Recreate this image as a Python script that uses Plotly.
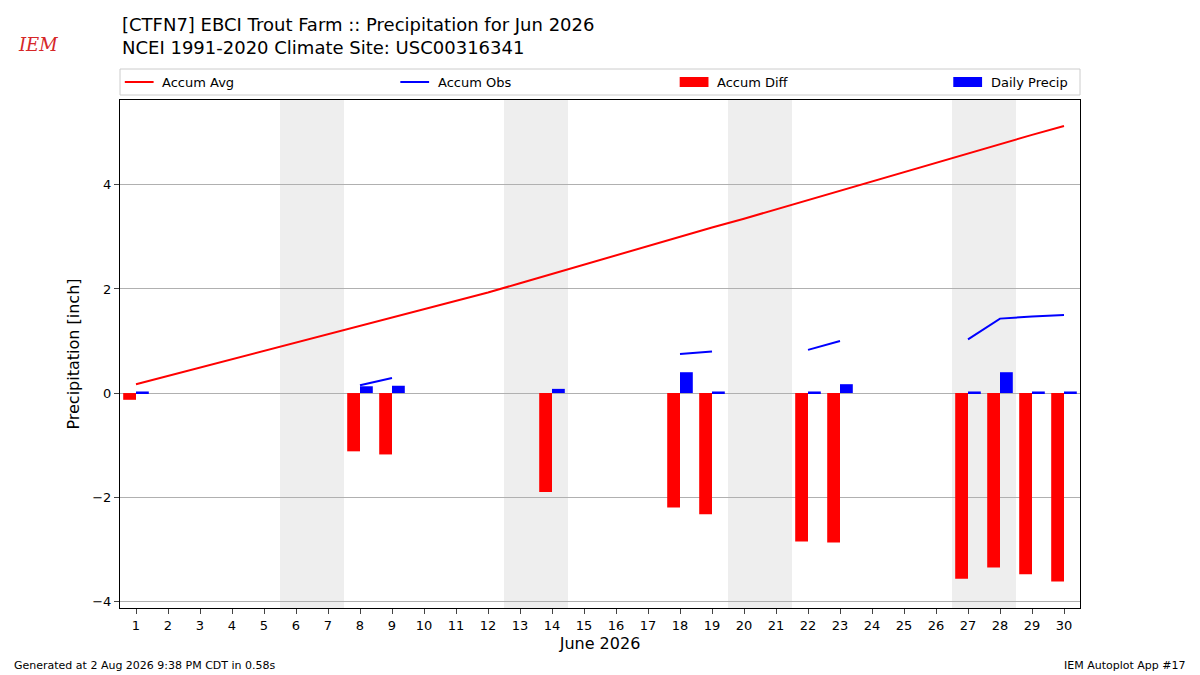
import plotly.graph_objects as go

days = list(range(1, 31))
accum_avg = [0.17,0.33,0.49,0.65,0.81,0.97,1.13,1.29,1.45,1.61,1.77,1.93,2.11,2.29,2.46,2.64,2.82,3.00,3.18,3.35,3.53,3.71,3.89,4.07,4.24,4.42,4.60,4.78,4.96,5.13]
accum_obs = [0.04,None,None,None,None,None,None,0.15,0.29,None,None,None,None,0.38,None,None,None,0.75,0.80,None,None,0.83,1.00,None,None,None,1.03,1.43,1.47,1.50]
accum_diff = [-0.13,None,None,None,None,None,None,-1.12,-1.18,None,None,None,None,-1.90,None,None,None,-2.20,-2.33,None,None,-2.85,-2.87,None,None,None,-3.57,-3.35,-3.48,-3.62]
daily = [0.03,None,None,None,None,None,None,0.13,0.14,None,None,None,None,0.08,None,None,None,0.40,0.03,None,None,0.03,0.17,None,None,None,0.03,0.40,0.03,0.03]
weekends = [(5.5,7.5),(12.5,14.5),(19.5,21.5),(26.5,28.5)]
title_lines = ["[CTFN7] EBCI Trout Farm :: Precipitation for Jun 2026", "NCEI 1991-2020 Climate Site: USC00316341"]

fig = go.Figure()
fig.add_trace(go.Scatter(x=days, y=accum_avg, mode="lines", line=dict(color="red", width=2), name="Accum Avg"))
fig.add_trace(go.Scatter(x=days, y=accum_obs, mode="lines", line=dict(color="blue", width=2), name="Accum Obs", connectgaps=False))
fig.add_trace(go.Bar(x=days, y=accum_diff, width=0.4, offset=-0.4, marker=dict(color="red", line_width=0), name="Accum Diff"))
fig.add_trace(go.Bar(x=days, y=daily, width=0.4, offset=0, marker=dict(color="blue", line_width=0), name="Daily Precip"))
for a, b in weekends:
    fig.add_vrect(x0=a, x1=b, fillcolor="#eeeeee", line_width=0, layer="below")

H = 508.0
W = 960.0
fig.update_layout(
    width=1200, height=675, plot_bgcolor="white", paper_bgcolor="white",
    font=dict(family="DejaVu Sans", size=13, color="black"),
    margin=dict(l=120, r=120, t=100, b=67, autoexpand=False), barmode="overlay", showlegend=False,
)
fig.update_xaxes(range=[0.5, 30.5], tickmode="array", tickvals=days, ticktext=[str(d) for d in days],
                 title=dict(text="June 2026", font=dict(size=16), standoff=6), showline=True, linecolor="black", mirror=True,
                 ticks="outside", showgrid=False, zeroline=False)
fig.update_yaxes(range=[-4.13, 5.63], tickvals=[-4,-2,0,2,4], title=dict(text="Precipitation [inch]", font=dict(size=16), standoff=8),
                 showline=True, linecolor="black", mirror=True, ticks="outside", showgrid=True, gridcolor="#b0b0b0",
                 zeroline=False)

fig.add_annotation(xref="paper", yref="paper", x=0, y=1+(100-24)/H, text=title_lines[0], showarrow=False,
                   xanchor="left", yanchor="middle", font=dict(size=18))
fig.add_annotation(xref="paper", yref="paper", x=0, y=1+(100-48)/H, text=title_lines[1], showarrow=False,
                   xanchor="left", yanchor="middle", font=dict(size=18))

fig.add_shape(type="rect", xref="paper", yref="paper", x0=0, x1=1, y0=1+5/H, y1=1+31/H, line=dict(color="#cccccc", width=1), fillcolor="white")
ym = 1 + 18/H
items = [("Accum Avg","line","red",0.005),("Accum Obs","line","blue",0.292),("Accum Diff","bar","red",0.583),("Daily Precip","bar","blue",0.868)]
for name, kind, col, x in items:
    if kind == "line":
        fig.add_shape(type="line", xref="paper", yref="paper", x0=x, x1=x+0.03, y0=ym, y1=ym, line=dict(color=col, width=2))
    else:
        fig.add_shape(type="rect", xref="paper", yref="paper", x0=x, x1=x+0.03, y0=ym-5/H, y1=ym+5/H, line_width=0, fillcolor=col)
    fig.add_annotation(xref="paper", yref="paper", x=x+0.037, y=ym, text=name, showarrow=False, xanchor="left", yanchor="middle", font=dict(size=13))

fig.add_annotation(xref="paper", yref="paper", x=-108/W, y=-(665-608)/H, text="Generated at 2 Aug 2026 9:38 PM CDT in 0.58s",
                   showarrow=False, xanchor="left", yanchor="middle", font=dict(size=11))
fig.add_annotation(xref="paper", yref="paper", x=1+108/W, y=-(665-608)/H, text="IEM Autoplot App #17",
                   showarrow=False, xanchor="right", yanchor="middle", font=dict(size=11))
fig.add_annotation(xref="paper", yref="paper", x=-82/W, y=1+(100-45)/H, text="<i>IEM</i>", showarrow=False, xanchor="center",
                   yanchor="middle", font=dict(size=18, color="#d62728", family="DejaVu Serif"))
fig.write_html("out.html", config={"displayModeBar": False})
with open("out.html") as f:
    html = f.read()
html = html.replace("<head>", "<head><style>html,body{margin:0;padding:0;overflow:hidden;}</style>", 1)
with open("out.html", "w") as f:
    f.write(html)
